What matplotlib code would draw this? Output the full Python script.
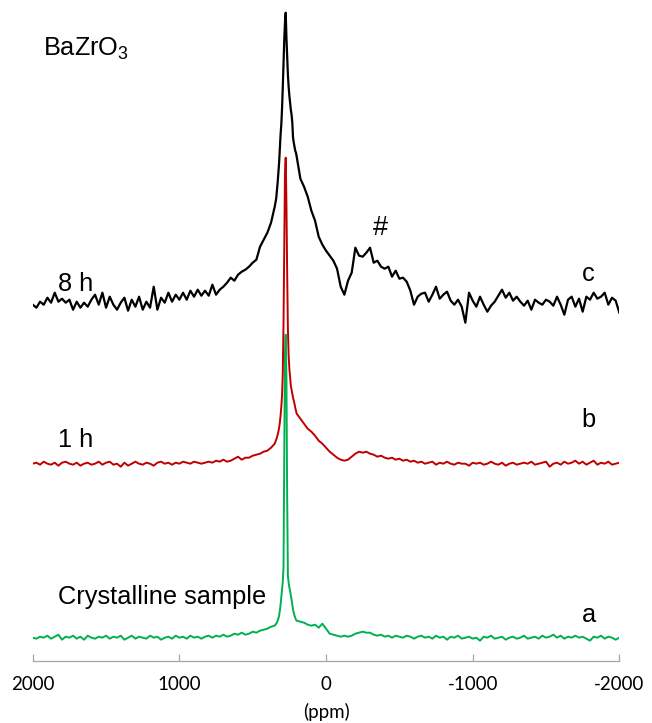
import numpy as np
import matplotlib.pyplot as plt

plt.rcParams['mathtext.fontset'] = 'custom'
plt.rcParams['mathtext.rm'] = 'Liberation Sans'
plt.rcParams['axes.unicode_minus'] = False

# chemical shift grid (ppm): coarse wings, fine steps across the main line
ppm = np.concatenate([np.arange(2000, 374, -25),
                      np.arange(350, 199, -5),
                      np.arange(175, -2001, -25)])

# 8 h spectrum (c)
int_c = [-2, -5, 1, -2, 5, 0, 10, 1, 4, 0,
         3, -7, 1, -5, 0, -4, 3, 8, -2, 10,
         -5, 6, -2, -7, 0, 5, -8, 3, -4, 6,
         -7, 1, -5, 16, -7, 5, 0, 10, 1, 8,
         3, 10, 3, 12, 6, 13, 7, 12, 7, 18,
         8, 13, 16, 20, 25, 22, 28, 31, 33, 36,
         40, 43, 56, 63, 70, 80,
         96, 100, 104, 112, 120, 130, 140, 154, 168, 178,
         194, 215, 240, 262, 280, 290, 265, 245, 228, 216,
         207, 200, 193, 188, 180, 165, 160, 156, 152, 150,
         146,
         124, 116, 106, 92, 82, 66, 58, 52, 47, 42,
         34, 16, 8, 22, 30, 55, 47, 46, 50, 55,
         40, 42, 36, 34, 36, 26, 32, 24, 25, 21,
         12, -2, 6, 9, 10, 1, 8, 16, 4, 8,
         11, 2, -2, 3, -4, -20, 10, 2, -4, 6,
         -2, -9, -3, 1, 7, 13, 5, 10, 2, 6,
         1, -3, 2, -7, 3, 0, -2, 3, 1, -3,
         6, -2, -12, 3, 6, -4, 4, -9, 6, 3,
         10, 4, 6, 10, -2, 5, 2, -10]

# 1 h spectrum (b)
int_b = [0, 1, -1, 2, 0, -1, 1, -2, 1, 2,
         0, -1, 1, -2, 0, 1, -1, 0, 2, -1,
         1, 2, -1, 0, -3, 1, -2, 0, 2, 0,
         -1, 1, 0, -2, 1, 2, 0, 1, -1, 1,
         0, 2, 1, 0, 2, 1, 0, 1, 2, 1,
         3, 2, 4, 2, 3, 5, 7, 4, 6, 6,
         8, 9, 10, 12, 13, 16,
         20, 22, 24, 26, 29, 32, 36, 41, 48, 57,
         68, 90, 140, 220, 290, 306, 260, 190, 135, 108,
         95, 86, 78, 74, 70, 66, 63, 60, 56, 53,
         50,
         45, 40, 35, 32, 28, 23, 20, 16, 12, 9,
         6, 4, 3, 4, 7, 10, 12, 11, 12, 10,
         9, 7, 8, 6, 5, 6, 4, 5, 3, 4,
         2, 3, 1, 2, 0, 1, 2, -1, 1, 0,
         2, 0, -1, 1, 0, 0, -2, 1, 0, 1,
         -1, 0, 2, 0, -1, 1, -2, 0, 1, -1,
         0, 1, 0, 2, -1, 0, 1, 2, -3, 0,
         1, -1, 2, 0, 1, 3, 0, 2, -1, 1,
         3, -1, 1, 0, 2, -1, 0, 1]

# crystalline reference (a)
int_a = [0, -1, 1, 0, 2, -1, 1, 3, -2, 1,
         0, 2, -1, 1, -2, 2, 0, -1, 1, 0,
         2, -1, 1, 0, 2, -2, 0, 2, -1, 1,
         0, -1, 2, 0, 1, -2, 0, 1, -1, 2,
         0, 1, -1, 2, 0, 1, -1, 1, 2, 0,
         2, 1, 3, 1, 2, 4, 3, 5, 3, 4,
         6, 5, 7, 8, 9, 11,
         12, 13, 14, 15, 17, 19, 22, 27, 33, 40,
         48, 56, 70, 170, 285, 303, 260, 140, 62, 55,
         50, 47, 42, 38, 33, 28, 25, 22, 20, 18,
         17,
         16, 15, 13, 12, 13, 10, 14, 9, 4, 3,
         2, 1, 2, 1, 2, 4, 5, 6, 5, 5,
         3, 2, 3, 1, 2, 0, 2, 1, 0, 2,
         1, -1, 1, 2, 0, 1, -1, 2, 0, 1,
         -2, 1, 0, 2, -1, 0, 1, -1, 0, -3,
         1, 0, 2, -1, 0, 1, -2, 0, 1, -1,
         0, 2, -1, 0, 1, -1, 2, 0, 1, 3,
         0, 2, -1, 1, 0, 2, 0, 1, -1, -3,
         1, 0, 2, -1, 1, 0, -2, 0]

spectra = [int_a, int_b, int_c]
offsets = [23, 197, 358]
colors = ['#00B050', '#C00000', '#000000']
widths = [1.4, 1.4, 1.6]

time_labels = ['Crystalline sample', '1 h', '8 h']
time_label_y = [57, 214, 370]
side_labels = ['a', 'b', 'c']
side_label_y = [39, 234, 380]

fig = plt.figure(figsize=(6.52, 7.23), dpi=100)
ax = fig.add_axes([0.0502, 0.0862, 0.8997, 0.9138])

for y, off, col, lw in zip(spectra, offsets, colors, widths):
    ax.plot(ppm, np.asarray(y) + off, color=col, lw=lw, solid_joinstyle='round')

txt = dict(fontfamily='Liberation Sans', fontsize=18.3, color='black')
for lab, yy in zip(time_labels, time_label_y):
    ax.text(1825, yy, lab, ha='left', va='baseline', **txt)
for lab, yy in zip(side_labels, side_label_y):
    ax.text(-1743, yy, lab, ha='left', va='baseline', **txt)
ax.text(1927, 605, r'BaZrO$_3$', ha='left', va='baseline', **txt)
ax.text(-318, 426, '#', ha='left', va='baseline',
        fontfamily='Liberation Sans', fontsize=19.5)

ax.set_xlim(2000, -2000)
ax.set_ylim(0, 660.7)
ax.set_xticks([2000, 1000, 0, -1000, -2000])
ax.set_yticks([])
for s in ['left', 'top', 'right']:
    ax.spines[s].set_visible(False)
ax.spines['bottom'].set_color('#A6A6A6')
ax.spines['bottom'].set_linewidth(0.9)
ax.tick_params(axis='x', direction='in', length=5, width=0.9, color='#A6A6A6',
               pad=11, labelsize=13.5)
for t in ax.get_xticklabels():
    t.set_fontfamily('Lato')
ax.set_xlabel('(ppm)', fontfamily='Lato', fontsize=13.5, labelpad=7)

fig.savefig('out.png', dpi=100)
